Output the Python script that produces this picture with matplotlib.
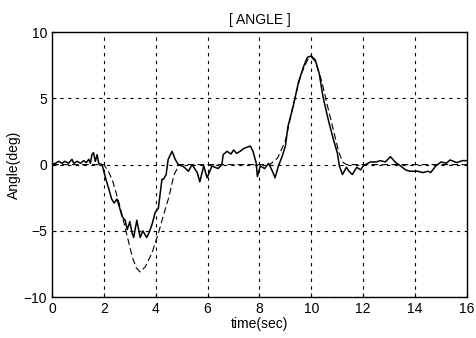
import matplotlib
matplotlib.use("Agg")
import matplotlib.pyplot as plt

# Measured angle (solid, noisy)
t_meas = [0, 0.13, 0.26, 0.39, 0.5, 0.64, 0.77, 0.84, 0.97, 1.1, 1.22, 1.32, 1.42, 1.48,
          1.54, 1.6, 1.67, 1.74, 1.8, 1.93, 2.05, 2.2, 2.3, 2.4, 2.5, 2.6, 2.7, 2.82, 2.9,
          3.0, 3.08, 3.15, 3.27, 3.4, 3.5, 3.65, 3.75, 3.86, 3.98, 4.1, 4.24, 4.3, 4.4,
          4.48, 4.63, 4.75, 4.87, 5.07, 5.26, 5.4, 5.6, 5.7, 5.85, 5.98, 6.17, 6.4, 6.55,
          6.6, 6.75, 6.9, 7.0, 7.12, 7.25, 7.38, 7.5, 7.65, 7.75, 7.87, 7.92, 8.03, 8.2,
          8.35, 8.5, 8.6, 8.73, 8.87, 9.0, 9.1, 9.3, 9.5, 9.7, 9.85, 10.0, 10.15, 10.3,
          10.45, 10.65, 10.85, 11.0, 11.08, 11.2, 11.35, 11.45, 11.58, 11.75, 11.9, 12.0,
          12.27, 12.5, 12.66, 12.85, 13.05, 13.25, 13.44, 13.63, 13.8, 14.1, 14.3, 14.5,
          14.6, 14.8, 15.0, 15.2, 15.35, 15.6, 15.83, 16.0]
v_meas = [0, 0.1, 0.25, 0.1, 0.25, 0.1, 0.4, 0.1, 0.25, 0.1, 0.3, 0.15, 0.4, 0.1,
          0.75, 0.9, 0.25, 0.75, 0.1, 0.0, -0.9, -1.9, -2.6, -2.9, -2.6, -3.2, -3.9, -4.2,
          -4.9, -4.3, -5.1, -5.5, -4.2, -5.5, -5.0, -5.5, -5.1, -4.5, -3.6, -3.3, -1.1,
          -1.1, -0.75, 0.4, 1.0, 0.4, 0.0, -0.15, -0.5, 0.0, -0.6, -1.3, -0.1, -1.0, -0.1,
          -0.3, 0.0, 0.75, 1.0, 0.8, 1.1, 0.85, 1.0, 1.2, 1.3, 1.4, 1.0, 0.15, -0.9, -0.1,
          -0.3, 0.1, -0.5, -1.0, -0.1, 0.6, 1.4, 2.9, 4.4, 6.2, 7.4, 8.1, 8.2, 7.9, 6.9,
          5.1, 3.4, 1.9, 0.9, -0.1, -0.75, -0.2, -0.5, -0.75, -0.2, -0.4, -0.1,
          0.2, 0.2, 0.3, 0.2, 0.6, 0.15, -0.1, -0.4, -0.5, -0.5, -0.6, -0.5,
          -0.6, -0.1, 0.2, 0.1, 0.35, 0.15, 0.3, 0.3]

# Reference angle (dashed, smooth)
t_ref = [0, 2.0, 2.2, 2.35, 2.6, 2.85, 3.1, 3.25, 3.4, 3.6, 3.85, 4.1, 4.3, 4.5, 4.7,
         4.9, 8.4, 8.7, 9.0, 9.3, 9.6, 9.85, 10.0, 10.15, 10.4, 10.6, 10.85, 11.05,
         11.2, 11.35, 16.0]
v_ref = [0, 0, -0.6, -1.3, -3.0, -5.0, -7.0, -7.8, -8.1, -7.7, -6.7, -5.2, -3.8, -2.5,
         -0.8, 0, 0, 0.5, 1.8, 4.5, 6.8, 7.9, 8.1, 7.8, 6.3, 4.6, 2.6, 1.0, 0.2, 0, 0]

x_ticks = [0, 2, 4, 6, 8, 10, 12, 14, 16]
y_ticks = [-10, -5, 0, 5, 10]

plt.rcParams['font.family'] = ['Liberation Sans', 'DejaVu Sans']

fig = plt.figure(figsize=(4.77, 3.38), dpi=100)
ax = fig.add_axes([0.109, 0.121, 0.870, 0.784])

ax.plot(t_meas, v_meas, color='black', lw=1.1)
ax.plot(t_ref, v_ref, color='black', lw=0.8, linestyle=(0, (6, 3)))

ax.set_xlim(0, 16)
ax.set_ylim(-10, 10)
ax.set_xticks(x_ticks)
ax.set_yticks(y_ticks)
ax.grid(True, color='black', linestyle=(0, (3, 4)), linewidth=0.8)
ax.tick_params(direction='in', length=3, labelsize=10, colors='black')
for s in ax.spines.values():
    s.set_linewidth(1.0)
    s.set_color('black')

ax.set_title('[ ANGLE ]', fontsize=10, pad=6)
ax.set_xlabel('time(sec)', fontsize=10, labelpad=1)
ax.set_ylabel('Angle(deg)', fontsize=10, labelpad=2)

fig.savefig('out.png', dpi=100)
